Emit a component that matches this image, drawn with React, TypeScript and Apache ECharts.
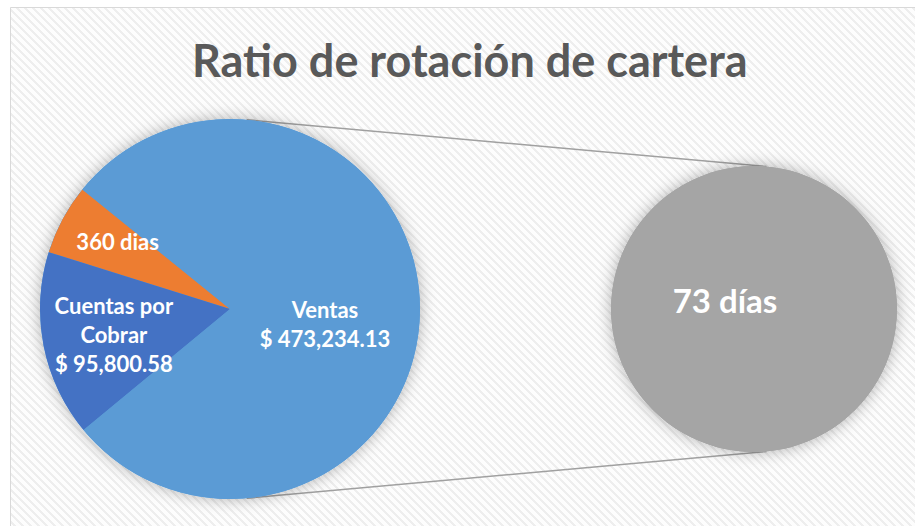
import React, { useEffect, useRef } from "react";
import * as echarts from "echarts";

const TITLE = "Ratio de rotación de cartera";

// Main pie (values read/; slice sizes match the drawing)
const mainCategories = ["360 dias", "Cuentas por Cobrar", "Ventas"];
const mainValues = [36300, 95800.58, 473234.13];
const mainLabels = ["360 dias", "Cuentas por\nCobrar\n$ 95,800.58", "Ventas\n$ 473,234.13"];
const mainColors = ["#ED7D31", "#4472C4", "#5B9BD5"];

// Secondary pie
const secondCategories = ["73 días"];
const secondValues = [73];
const secondLabels = ["73 días"];
const secondColors = ["#A5A5A5"];

// Layout constants
const MAIN_C = [230, 309];
const MAIN_R = 190;
const SEC_C = [754, 309];
const SEC_R = 143;
const CONNECT_ANGLE = 85; // degrees

const mainLabelOffsets = [
  [-26, -21],
  [-20, 7],
  [-3, 15],
];
const secondLabelOffsets = [[-29, -9]];

function makeStripePattern(): HTMLCanvasElement {
  const size = 8;
  const c = document.createElement("canvas");
  c.width = size;
  c.height = size;
  const ctx = c.getContext("2d")!;
  const img = ctx.createImageData(size, size);
  for (let y = 0; y < size; y++) {
    for (let x = 0; x < size; x++) {
      const k = (((x - y) % size) + size) % size;
      const v = k < 3 ? 238 : 253;
      const i = (y * size + x) * 4;
      img.data[i] = v;
      img.data[i + 1] = v;
      img.data[i + 2] = v;
      img.data[i + 3] = 255;
    }
  }
  ctx.putImageData(img, 0, 0);
  return c;
}

export default function App() {
  const ref = useRef<HTMLDivElement>(null);

  useEffect(() => {
    if (!ref.current) return;
    const chart = echarts.init(ref.current, undefined, { renderer: "svg" });
    const rad = (CONNECT_ANGLE * Math.PI) / 180;
    const mTop = [MAIN_C[0] + MAIN_R * Math.cos(rad), MAIN_C[1] - MAIN_R * Math.sin(rad)];
    const mBot = [MAIN_C[0] + MAIN_R * Math.cos(rad), MAIN_C[1] + MAIN_R * Math.sin(rad)];
    const sTop = [SEC_C[0] + SEC_R * Math.cos(rad), SEC_C[1] - SEC_R * Math.sin(rad)];
    const sBot = [SEC_C[0] + SEC_R * Math.cos(rad), SEC_C[1] + SEC_R * Math.sin(rad)];

    const font = "Lato, 'Open Sans', sans-serif";
    const labelStyle = {
      color: "#FFFFFF",
      fontFamily: font,
      fontWeight: "bold" as const,
      fontSize: 22,
      lineHeight: 29,
      align: "center" as const,
    };

    chart.setOption({
      animation: false,
      backgroundColor: "#FFFFFF",
      title: {
        text: TITLE,
        left: 192,
        top: 37,
        padding: 0,
        textStyle: {
          fontFamily: font,
          fontWeight: "bold",
          fontSize: 45,
          color: "#595959",
        },
      },
      graphic: [
        {
          type: "rect",
          z: -10,
          silent: true,
          shape: { x: 10.5, y: 7.5, width: 930, height: 540 },
          style: {
            fill: { image: makeStripePattern(), repeat: "repeat" } as any,
            stroke: "#D9D9D9",
            lineWidth: 1,
          },
        },
        {
          type: "line",
          z: 1,
          silent: true,
          shape: { x1: mTop[0], y1: mTop[1], x2: sTop[0], y2: sTop[1] },
          style: { stroke: "#A0A0A0", lineWidth: 1.5 },
        },
        {
          type: "line",
          z: 1,
          silent: true,
          shape: { x1: mBot[0], y1: mBot[1], x2: sBot[0], y2: sBot[1] },
          style: { stroke: "#A0A0A0", lineWidth: 1.5 },
        },
      ],
      series: [
        // shadows behind both pies
        {
          type: "pie",
          z: 1,
          silent: true,
          center: MAIN_C,
          radius: [0, MAIN_R],
          label: { show: false },
          labelLine: { show: false },
          data: [{ value: 1, itemStyle: { color: "#5B9BD5", shadowBlur: 16, shadowColor: "rgba(0,0,0,0.3)" } }],
        },
        {
          type: "pie",
          z: 1,
          silent: true,
          center: SEC_C,
          radius: [0, SEC_R],
          label: { show: false },
          labelLine: { show: false },
          data: [{ value: 1, itemStyle: { color: "#A5A5A5", shadowBlur: 16, shadowColor: "rgba(0,0,0,0.3)" } }],
        },
        {
          type: "pie",
          name: "Principal",
          z: 2,
          center: MAIN_C,
          radius: [0, MAIN_R],
          startAngle: 141,
          clockwise: false,
          avoidLabelOverlap: false,
          label: { show: true, position: "inside", ...labelStyle },
          labelLine: { show: false },
          labelLayout: (p: any) => ({
            dx: mainLabelOffsets[p.dataIndex][0],
            dy: mainLabelOffsets[p.dataIndex][1],
          }),
          itemStyle: { borderWidth: 0 },
          data: mainCategories.map((name, i) => ({
            name,
            value: mainValues[i],
            itemStyle: { color: mainColors[i] },
            label: { formatter: mainLabels[i] },
          })),
        },
        {
          type: "pie",
          name: "Secundario",
          z: 2,
          center: SEC_C,
          radius: [0, SEC_R],
          startAngle: 90,
          avoidLabelOverlap: false,
          label: { show: true, position: "center", ...labelStyle, fontSize: 33, lineHeight: 38 },
          labelLine: { show: false },
          labelLayout: (p: any) => ({
            dx: secondLabelOffsets[p.dataIndex][0],
            dy: secondLabelOffsets[p.dataIndex][1],
          }),
          itemStyle: { borderWidth: 0 },
          data: secondCategories.map((name, i) => ({
            name,
            value: secondValues[i],
            itemStyle: { color: secondColors[i] },
            label: { formatter: secondLabels[i] },
          })),
        },
      ],
    });
    return () => chart.dispose();
  }, []);

  return (
    <div
      ref={ref}
      style={{ position: "absolute", left: 0, top: 0, width: 915, height: 526 }}
    />
  );
}
